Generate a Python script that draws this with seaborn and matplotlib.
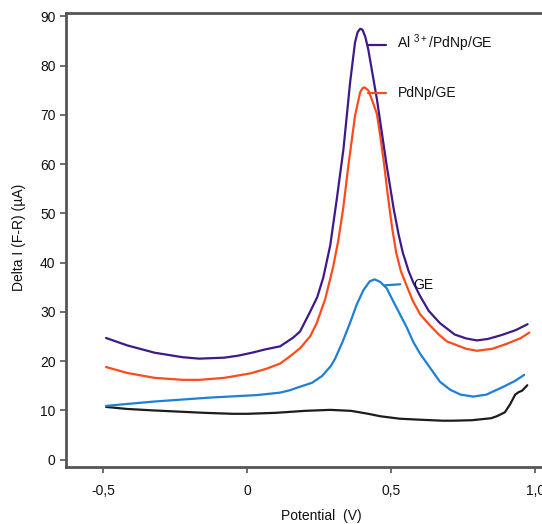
"""Differential pulse voltammograms for GE, PdNp/GE and Al3+/PdNp/GE (saved as out.png)."""

import matplotlib

matplotlib.use("Agg")
import matplotlib.pyplot as plt
import pandas as pd
import seaborn as sns
from matplotlib.ticker import FuncFormatter

# curve values (potential in V, current in uA)
al_x = [-0.490, -0.417, -0.321, -0.225, -0.167, -0.080, -0.032, 0.016, 0.064, 0.114,
        0.137, 0.160, 0.183, 0.218, 0.243, 0.264, 0.288, 0.311, 0.334, 0.357, 0.374,
        0.383, 0.392, 0.400, 0.410, 0.420, 0.450, 0.484, 0.508, 0.525, 0.540, 0.560,
        0.576, 0.600, 0.630, 0.669, 0.720, 0.760, 0.797, 0.835, 0.883, 0.932, 0.973]
al_y = [24.7, 23.2, 21.7, 20.8, 20.5, 20.7, 21.1, 21.7, 22.4, 23.0,
        23.9, 24.8, 26.0, 30.0, 33.0, 37.0, 43.5, 53.0, 63.1, 76.6, 84.7,
        86.8, 87.5, 87.3, 85.8, 83.3, 73.2, 59.7, 51.0, 45.8, 42.0, 38.3,
        36.0, 33.2, 30.2, 27.7, 25.4, 24.6, 24.2, 24.5, 25.3, 26.3, 27.5]

pd_x = [-0.490, -0.417, -0.321, -0.225, -0.164, -0.080, 0.010, 0.064, 0.114, 0.149,
        0.183, 0.218, 0.241, 0.270, 0.298, 0.316, 0.333, 0.351, 0.374, 0.392, 0.400,
        0.407, 0.420, 0.432, 0.450, 0.461, 0.475, 0.485, 0.495, 0.503, 0.517, 0.533,
        0.554, 0.575, 0.600, 0.635, 0.665, 0.693, 0.760, 0.797, 0.850, 0.900, 0.950,
        0.979]
pd_y = [18.8, 17.6, 16.6, 16.2, 16.2, 16.6, 17.5, 18.4, 19.5, 21.0,
        22.6, 25.0, 27.7, 32.5, 39.1, 44.5, 51.0, 59.7, 69.8, 74.6, 75.4,
        75.6, 75.0, 73.2, 70.2, 66.0, 60.0, 55.0, 50.5, 47.0, 42.0, 38.3,
        35.2, 32.2, 29.5, 27.2, 25.4, 24.0, 22.5, 22.1, 22.5, 23.5, 24.7,
        25.8]

ge_x = [-0.490, -0.417, -0.321, -0.225, -0.128, -0.032, 0.033, 0.114, 0.149, 0.183,
        0.225, 0.260, 0.290, 0.305, 0.330, 0.357, 0.380, 0.403, 0.425, 0.442, 0.461,
        0.484, 0.508, 0.531, 0.554, 0.577, 0.600, 0.635, 0.669, 0.704, 0.740, 0.785,
        0.830, 0.889, 0.930, 0.961]
ge_y = [10.9, 11.3, 11.8, 12.2, 12.6, 12.9, 13.1, 13.6, 14.1, 14.8,
        15.6, 17.0, 19.0, 20.5, 23.8, 27.8, 31.5, 34.4, 36.2, 36.6, 36.1,
        34.8, 32.0, 29.4, 26.8, 23.8, 21.5, 18.6, 15.8, 14.2, 13.2, 12.8,
        13.2, 14.8, 16.0, 17.2]

blank_x = [-0.490, -0.420, -0.330, -0.258, -0.150, -0.050, 0.000, 0.100, 0.200, 0.288,
           0.360, 0.420, 0.462, 0.530, 0.600, 0.678, 0.716, 0.780, 0.846, 0.866, 0.894,
           0.912, 0.930, 0.942, 0.954, 0.972]
blank_y = [10.7, 10.3, 10.0, 9.8, 9.5, 9.3, 9.3, 9.5, 9.9, 10.1,
           9.9, 9.3, 8.8, 8.3, 8.1, 7.9, 7.9, 8.0, 8.4, 8.8, 9.6,
           11.2, 13.2, 13.7, 14.0, 15.1]

x_ticks = [-0.5, 0, 0.5, 1.0]
y_ticks = [0, 10, 20, 30, 40, 50, 60, 70, 80, 90]

sns.set_style("ticks")
plt.rcParams["font.family"] = ["Liberation Sans", "DejaVu Sans"]
plt.rcParams["mathtext.default"] = "regular"

fig = plt.figure(figsize=(5.42, 5.24), dpi=100)
ax = fig.add_axes([0.1218, 0.1088, 0.8782, 0.8655])

curves = [
    (blank_x, blank_y, "#1c1c1c"),
    (ge_x, ge_y, "#1f7fd6"),
    (pd_x, pd_y, "#ff4b1c"),
    (al_x, al_y, "#3d1a8a"),
]
for xs, ys, col in curves:
    df = pd.DataFrame({"Potential": xs, "Current": ys})
    sns.lineplot(data=df, x="Potential", y="Current", sort=False, color=col,
                 linewidth=1.6, ax=ax)

ax.set_xlim(-0.629, 1.023)
ax.set_ylim(-1.5, 90.6)
ax.set_xticks(x_ticks)
ax.set_yticks(y_ticks)
ax.xaxis.set_major_formatter(FuncFormatter(lambda v, p: "0" if v == 0 else f"{v:.1f}".replace(".", ",")))
ax.tick_params(axis="both", direction="out", length=4, width=1.2, color="#555555",
               labelsize=10, labelcolor="#111111")
ax.tick_params(axis="x", pad=8)

for side in ["left", "bottom", "top"]:
    ax.spines[side].set_color("#555555")
    ax.spines[side].set_linewidth(2)
ax.spines["right"].set_visible(False)

ax.set_xlabel("Potential  (V)", fontsize=10, color="#111111")
ax.set_ylabel("Delta I (F-R) (\u00b5A)", fontsize=10, color="#111111")
ax.xaxis.set_label_coords(0.536, -0.092)
ax.yaxis.set_label_coords(-0.085, 0.506)

# curve labels with short leader lines
ax.plot([0.419, 0.482], [84.2, 84.2], color="#3d1a8a", linewidth=1.6)
ax.text(0.520, 84.5, "Al $^{3+}$/PdNp/GE", fontsize=10, va="center", color="#111111")
ax.plot([0.419, 0.482], [74.4, 74.4], color="#ff4b1c", linewidth=1.6)
ax.text(0.524, 74.5, "PdNp/GE", fontsize=10, va="center", color="#111111")
ax.plot([0.478, 0.531], [35.4, 35.6], color="#1f7fd6", linewidth=1.6)
ax.text(0.575, 35.4, "GE", fontsize=10, va="center", color="#111111")

fig.savefig("out.png", dpi=100)
plt.close(fig)
